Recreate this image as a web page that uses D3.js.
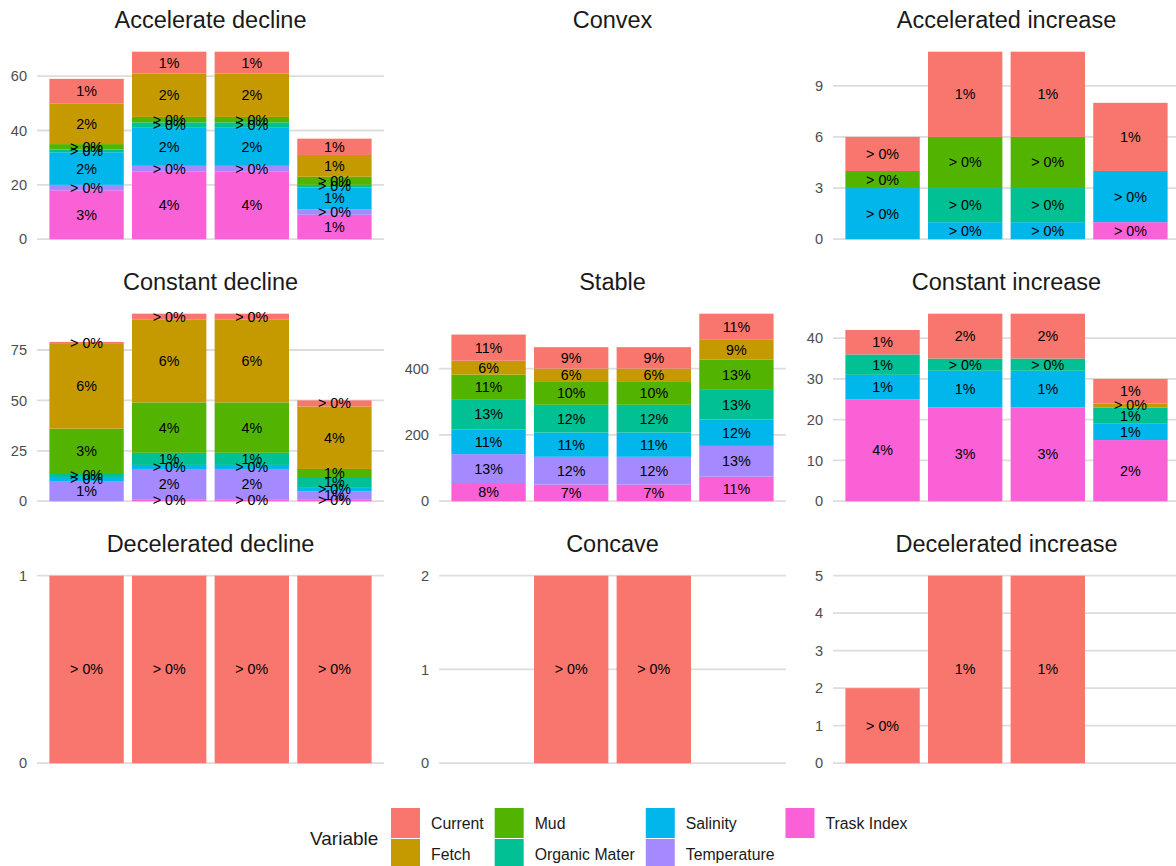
<!DOCTYPE html>
<html><head><meta charset="utf-8">
<script src="https://cdn.jsdelivr.net/npm/d3@7"></script>
<style>
body{margin:0;background:#fff}
svg{display:block}
text{font-family:"Liberation Sans",Arial,Helvetica,sans-serif}
</style>
</head><body>
<svg id="chart" width="1176" height="866"></svg>
<script>
// ---------- DATA ----------
const categories = ["1", "2", "3", "4"];
const variables = ["Current", "Fetch", "Mud", "Organic Mater", "Salinity", "Temperature", "Trask Index"];
const colors = ["#F8766D", "#C49A00", "#53B400", "#00C094", "#00B6EB", "#A58AFF", "#FB61D7"];
const facetTitles = ["Accelerate decline", "Convex", "Accelerated increase",
                     "Constant decline", "Stable", "Constant increase",
                     "Decelerated decline", "Concave", "Decelerated increase"];

// counts per variable for the four bars
const accelerateDecline = {
  "Current": [9, 8, 8, 6], "Fetch": [15, 16, 16, 8], "Mud": [2, 2, 2, 3],
  "Organic Mater": [1, 2, 2, 1], "Salinity": [12, 14, 14, 8],
  "Temperature": [2, 2, 2, 2], "Trask Index": [18, 25, 25, 9]
};
const convex = null;
const acceleratedIncrease = {
  "Current": [2, 5, 5, 4], "Mud": [1, 3, 3, 0], "Organic Mater": [0, 2, 2, 0],
  "Salinity": [3, 1, 1, 3], "Trask Index": [0, 0, 0, 1]
};
const constantDecline = {
  "Current": [1, 3, 3, 3], "Fetch": [42, 41, 41, 31], "Mud": [22, 25, 25, 4],
  "Organic Mater": [2, 6, 6, 5], "Salinity": [2, 2, 2, 2],
  "Temperature": [10, 15, 15, 4], "Trask Index": [0, 1, 1, 1]
};
const stable = {
  "Current": [79, 65, 65, 79], "Fetch": [42, 40, 40, 60], "Mud": [74, 69, 69, 91],
  "Organic Mater": [91, 84, 84, 89], "Salinity": [75, 73, 73, 80],
  "Temperature": [87, 84, 84, 93], "Trask Index": [55, 50, 50, 74]
};
const constantIncrease = {
  "Current": [6, 11, 11, 6], "Fetch": [0, 0, 0, 1], "Organic Mater": [5, 3, 3, 4],
  "Salinity": [6, 9, 9, 4], "Trask Index": [25, 23, 23, 15]
};
const deceleratedDecline = { "Current": [1, 1, 1, 1] };
const concave = { "Current": [0, 2, 2, 0] };
const deceleratedIncrease = { "Current": [2, 5, 5, 0] };

const panelValues = [accelerateDecline, convex, acceleratedIncrease,
                     constantDecline, stable, constantIncrease,
                     deceleratedDecline, concave, deceleratedIncrease];

// y tick labels per facet
const panelTicks = [[0, 20, 40, 60], [], [0, 3, 6, 9],
                    [0, 25, 50, 75], [0, 200, 400], [0, 10, 20, 30, 40],
                    [0, 1], [0, 1, 2], [0, 1, 2, 3, 4, 5]];

const legendTitle = "Variable";

// ---------- LAYOUT ----------
const colLeft = [37, 439, 833];
const panelW = 347;
const rowTop = [42.3, 304.3, 566.3];
const panelH = 206.3;
const FONT = '"Liberation Sans",Arial,Helvetica,sans-serif';

const svg = d3.select("#chart");
const color = d3.scaleOrdinal().domain(variables).range(colors);

// totals per x category over all facets (for the percentage labels)
const totals = categories.map((c, i) => d3.sum(panelValues, p => p ? d3.sum(variables, v => (p[v] ? p[v][i] : 0)) : 0));
const fmt = (v, i) => {
  const pct = v / totals[i] * 100;
  return pct < 0.5 ? "> 0%" : Math.round(pct) + "%";
};

const stackKeys = variables.slice().reverse(); // Trask Index at bottom, Current on top
const defs = svg.append("defs");

panelValues.forEach((pv, k) => {
  const r = Math.floor(k / 3), c = k % 3;
  const x0 = colLeft[c], y0 = rowTop[r];
  const g = svg.append("g");

  // strip title
  g.append("text")
    .attr("x", x0 + panelW / 2).attr("y", y0 - 14)
    .attr("text-anchor", "middle")
    .attr("font-size", 23.5).attr("fill", "#1A1A1A")
    .text(facetTitles[k]);

  if (!pv) return;

  const rows = categories.map((cat, i) => {
    const o = { cat, idx: i };
    variables.forEach(v => { o[v] = pv[v] ? pv[v][i] : 0; });
    return o;
  });
  const series = d3.stack().keys(stackKeys)(rows);
  const maxV = d3.max(series, s => d3.max(s, d => d[1]));

  const x = d3.scaleBand().domain(categories)
    .range([x0, x0 + panelW]).paddingInner(0.1).paddingOuter(0.15);
  const y = d3.scaleLinear().domain([-0.05 * maxV, 1.05 * maxV]).range([y0 + panelH, y0]);

  const clipId = "clip" + k;
  defs.append("clipPath").attr("id", clipId).append("rect")
    .attr("x", x0).attr("y", y0).attr("width", panelW).attr("height", panelH);

  // grid
  const ticks = panelTicks[k];
  g.append("g").selectAll("line").data(ticks).join("line")
    .attr("x1", x0).attr("x2", x0 + panelW)
    .attr("y1", d => y(d)).attr("y2", d => y(d))
    .attr("stroke", "#DDDDDD").attr("stroke-width", 1.8);

  // y axis via d3 axis (no domain line, no ticks)
  const ax = g.append("g").attr("transform", `translate(${x0},0)`)
    .call(d3.axisLeft(y).tickValues(ticks).tickSize(0).tickPadding(10).tickFormat(d3.format("d")));
  ax.select(".domain").remove();
  ax.selectAll("text").attr("font-size", 14.6).attr("fill", "#4D4D4D")
    .attr("font-family", FONT);

  const body = g.append("g").attr("clip-path", `url(#${clipId})`);
  // bars
  series.forEach(s => {
    body.append("g").attr("fill", color(s.key))
      .selectAll("rect").data(s.filter(d => d[1] - d[0] > 0)).join("rect")
      .attr("x", d => x(d.data.cat)).attr("width", x.bandwidth())
      .attr("y", d => y(d[1])).attr("height", d => y(d[0]) - y(d[1]));
  });
  // labels
  series.forEach(s => {
    body.append("g")
      .selectAll("text").data(s.filter(d => d[1] - d[0] > 0)).join("text")
      .attr("x", d => x(d.data.cat) + x.bandwidth() / 2)
      .attr("y", d => y((d[0] + d[1]) / 2))
      .attr("text-anchor", "middle").attr("dominant-baseline", "central")
      .attr("font-size", 14.3).attr("fill", "#000")
      .text(d => fmt(d[1] - d[0], d.data.idx));
  });
});

// ---------- LEGEND ----------
const lg = svg.append("g");
lg.append("text").attr("x", 310).attr("y", 838)
  .attr("dominant-baseline", "central").attr("font-size", 19).attr("fill", "#1A1A1A")
  .text(legendTitle);

const keyW = 29, keyH = 30, rowPitch = 31, keyTop = 808;
let kx = 391;
const nCols = Math.ceil(variables.length / 2);
for (let ci = 0; ci < nCols; ci++) {
  const items = variables.slice(ci * 2, ci * 2 + 2);
  let maxW = 0;
  items.forEach((v, ri) => {
    const ky = keyTop + ri * rowPitch;
    lg.append("rect").attr("x", kx).attr("y", ky).attr("width", keyW).attr("height", keyH)
      .attr("fill", color(v));
    const t = lg.append("text").attr("x", kx + keyW + 11).attr("y", ky + keyH / 2)
      .attr("dominant-baseline", "central").attr("font-size", 15.8).attr("fill", "#1A1A1A")
      .text(v);
    maxW = Math.max(maxW, t.node().getComputedTextLength());
  });
  kx += keyW + 11 + maxW + 11;
}
</script>
</body></html>
